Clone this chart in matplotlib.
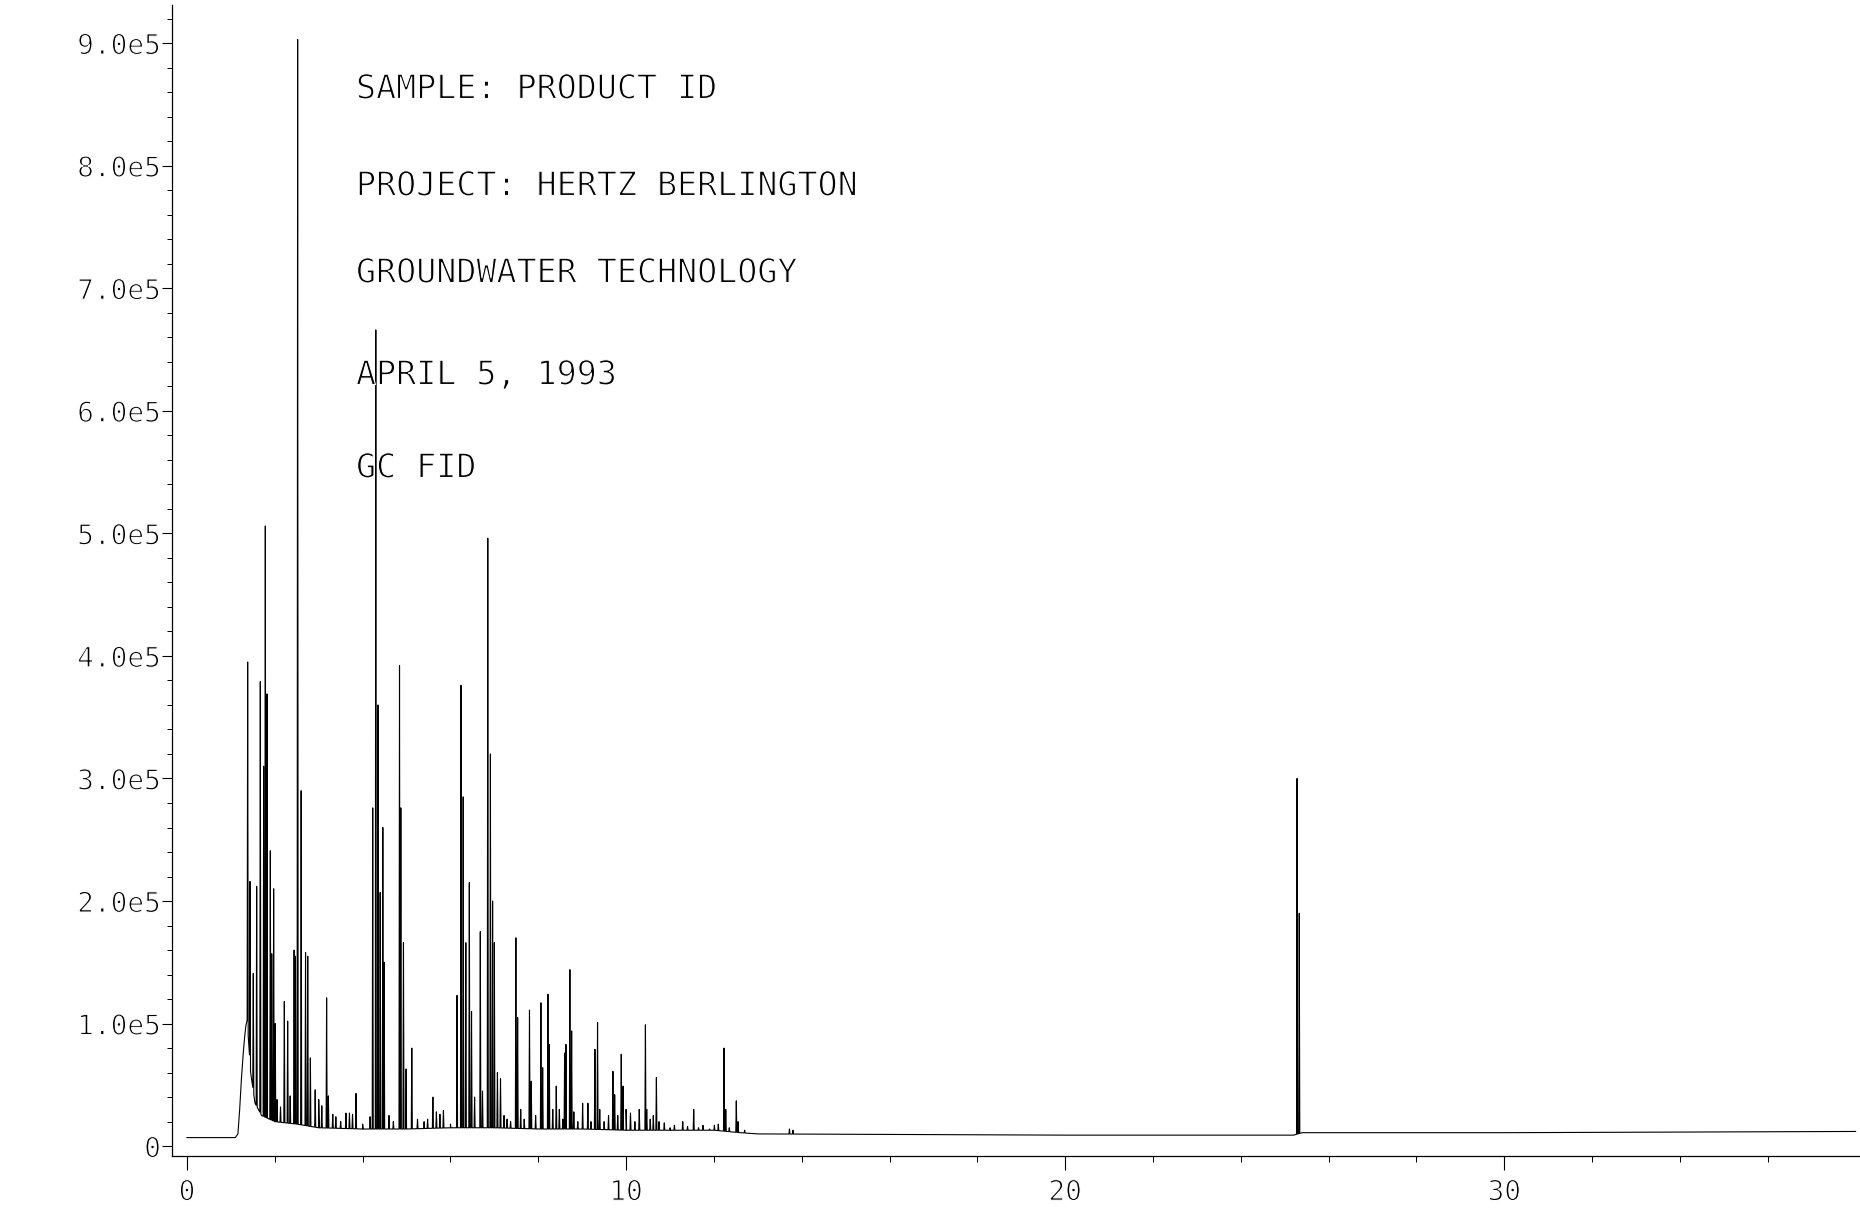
import numpy as np
import matplotlib
matplotlib.use('Agg')
import matplotlib.pyplot as plt
import matplotlib.patheffects as pe

# retention time (min) and peak heights (x 1e5 counts)
pk_t = [1.382, 1.435, 1.51, 1.587, 1.67, 1.746, 1.784, 1.822, 1.898, 1.93,
        1.974, 2.01, 2.05, 2.13, 2.217, 2.293, 2.35, 2.44, 2.47, 2.52,
        2.60, 2.70, 2.75, 2.81, 2.92, 3.00, 3.07, 3.18, 3.22, 3.32,
        3.39, 3.50, 3.62, 3.70, 3.77, 3.85, 4.00, 4.17, 4.23, 4.30,
        4.35, 4.40, 4.46, 4.49, 4.60, 4.70, 4.84, 4.87, 4.93, 4.99,
        5.12, 5.25, 5.40, 5.48, 5.60, 5.68, 5.76, 5.84, 6.00, 6.15,
        6.24, 6.29, 6.35, 6.43, 6.48, 6.55, 6.68, 6.73, 6.85, 6.91,
        6.96, 7.00, 7.07, 7.14, 7.22, 7.29, 7.37, 7.49, 7.53, 7.60,
        7.68, 7.80, 7.84, 7.94, 8.06, 8.10, 8.22, 8.25, 8.33, 8.41,
        8.48, 8.56, 8.60, 8.63, 8.72, 8.76, 8.81, 8.90, 9.01, 9.13,
        9.20, 9.29, 9.35, 9.40, 9.50, 9.60, 9.70, 9.74, 9.81, 9.89,
        9.93, 10.00, 10.10, 10.20, 10.30, 10.44, 10.47, 10.55, 10.62, 10.69,
        10.75, 10.87, 11.00, 11.10, 11.29, 11.40, 11.54, 11.65, 11.75, 11.90,
        12.01, 12.10, 12.23, 12.27, 12.35, 12.51, 12.55, 12.70, 13.72, 13.80,
        25.28, 25.33]
pk_h = [3.95, 2.16, 1.41, 2.12, 3.79, 3.10, 5.06, 3.69, 2.41, 1.57,
        2.10, 1.00, 0.38, 0.32, 1.18, 1.02, 0.41, 1.60, 1.55, 9.03,
        2.90, 1.58, 1.55, 0.72, 0.46, 0.38, 0.33, 1.21, 0.41, 0.26,
        0.24, 0.20, 0.27, 0.27, 0.26, 0.43, 0.18, 0.24, 2.76, 6.66,
        3.60, 2.07, 2.60, 1.50, 0.25, 0.20, 3.92, 2.76, 1.66, 0.63,
        0.80, 0.22, 0.20, 0.22, 0.40, 0.28, 0.26, 0.29, 0.18, 1.23,
        3.76, 2.85, 1.66, 2.15, 1.10, 0.40, 1.75, 0.45, 4.96, 3.20,
        2.00, 1.66, 0.60, 0.55, 0.25, 0.22, 0.20, 1.70, 1.05, 0.30,
        0.22, 1.11, 0.53, 0.25, 1.17, 0.64, 1.24, 0.83, 0.30, 0.49,
        0.30, 0.22, 0.76, 0.83, 1.44, 0.94, 0.28, 0.20, 0.35, 0.35,
        0.20, 0.79, 1.01, 0.30, 0.20, 0.25, 0.61, 0.42, 0.25, 0.75,
        0.49, 0.30, 0.27, 0.20, 0.30, 0.99, 0.30, 0.22, 0.25, 0.56,
        0.20, 0.19, 0.15, 0.17, 0.20, 0.16, 0.30, 0.15, 0.17, 0.14,
        0.17, 0.18, 0.80, 0.30, 0.15, 0.37, 0.20, 0.13, 0.14, 0.13,
        3.00, 1.90]

# baseline under the peaks (x 1e5)
bl_t = [0.0, 1.10, 1.16, 1.20, 1.24, 1.28, 1.31, 1.34, 1.37, 1.45, 1.55, 1.70,
        2.0, 2.5, 3.0, 4.0, 5.0, 6.0, 7.0, 8.0, 9.0, 10.0, 11.0, 12.0, 12.6,
        13.0, 20.0, 25.2, 25.4, 30.0, 38.0]
bl_y = [0.07, 0.07, 0.10, 0.30, 0.55, 0.75, 0.88, 0.98, 1.03, 0.60, 0.35, 0.25,
        0.20, 0.18, 0.15, 0.14, 0.14, 0.15, 0.15, 0.14, 0.14, 0.13, 0.13, 0.13, 0.11,
        0.10, 0.09, 0.09, 0.11, 0.11, 0.12]

x_ticks = [0, 10, 20, 30]
x_labels = ['0', '10', '20', '30']
y_ticks = [0, 1e5, 2e5, 3e5, 4e5, 5e5, 6e5, 7e5, 8e5, 9e5]
y_labels = ['0', '1.0e5', '2.0e5', '3.0e5', '4.0e5', '5.0e5', '6.0e5', '7.0e5', '8.0e5', '9.0e5']

header = ['SAMPLE: PRODUCT ID',
          'PROJECT: HERTZ BERLINGTON',
          'GROUNDWATER TECHNOLOGY',
          'APRIL 5, 1993',
          'GC FID']

# build the trace: narrow peaks sitting on the baseline
w = 0.012
pt = np.array(pk_t)
ph = np.array(pk_h)
xs = np.concatenate([bl_t, pt - w, pt, pt + w])
ys = np.concatenate([bl_y, np.interp(pt - w, bl_t, bl_y), ph, np.interp(pt + w, bl_t, bl_y)])
order = np.argsort(xs, kind='stable')
xs = xs[order]
ys = ys[order] * 1e5

thin = [pe.Stroke(linewidth=0.8, foreground='white')]
mono = 'DejaVu Sans Mono'

fig = plt.figure(figsize=(18.6, 12.14), dpi=100)
fig.set_facecolor('white')
ax = fig.add_axes([0.0925, 0.0478, 0.9075, 0.948])
ax.plot(xs, ys, color='black', lw=0.8)

ax.set_xlim(-0.34, 38.1)
ax.set_ylim(-0.08e5, 9.31e5)
for s in ['top', 'right']:
    ax.spines[s].set_visible(False)
ax.spines['left'].set_linewidth(0.9)
ax.spines['bottom'].set_linewidth(0.9)

ax.set_xticks(x_ticks)
ax.set_xticklabels(x_labels)
ax.set_xticks(np.arange(0, 38, 2), minor=True)
ax.set_yticks(y_ticks)
ax.set_yticklabels(y_labels)
ax.set_yticks(np.arange(0, 9.3e5, 0.2e5), minor=True)
ax.tick_params(axis='y', which='major', direction='out', length=7, width=0.8, pad=1, labelsize=20)
ax.tick_params(axis='y', which='minor', direction='out', length=3.5, width=0.7)
ax.tick_params(axis='x', which='major', direction='out', length=10, width=0.8, pad=6, labelsize=20)
ax.tick_params(axis='x', which='minor', direction='out', length=4, width=0.7)
for lbl in ax.get_xticklabels() + ax.get_yticklabels():
    lbl.set_family(mono)
    lbl.set_path_effects(thin)

ys_txt = [0.9267, 0.8468, 0.7751, 0.6911, 0.6145]
for t, yy in zip(header, ys_txt):
    fig.text(0.1914, yy, t, family=mono, fontsize=24, va='center', ha='left',
             path_effects=thin)

fig.savefig('out.png', dpi=100, facecolor='white')
